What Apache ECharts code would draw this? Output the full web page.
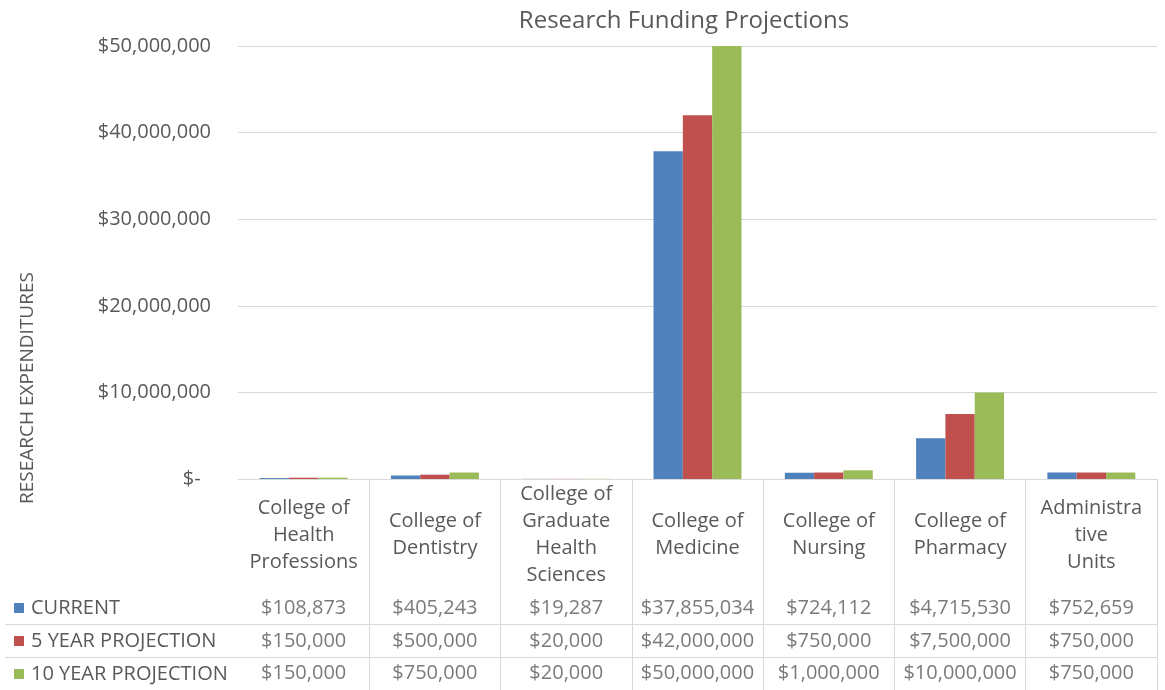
<!DOCTYPE html>
<html>
<head>
<meta charset="utf-8">
<script src="https://cdn.jsdelivr.net/npm/echarts@6/dist/echarts.min.js"></script>
<style>
  html, body { margin: 0; padding: 0; background: #fff; }
  #main { width: 1165px; height: 690px; }
</style>
</head>
<body>
<div id="main"></div>
<script>
// chart data
const categories = [
  'College of\nHealth\nProfessions',
  'College of\nDentistry',
  'College of\nGraduate\nHealth\nSciences',
  'College of\nMedicine',
  'College of\nNursing',
  'College of\nPharmacy',
  'Administra\ntive\nUnits'
];
const seriesNames = ['CURRENT', '5 YEAR PROJECTION', '10 YEAR PROJECTION'];
const current = [108873, 405243, 19287, 37855034, 724112, 4715530, 752659];
const fiveYear = [150000, 500000, 20000, 42000000, 750000, 7500000, 750000];
const tenYear = [150000, 750000, 20000, 50000000, 1000000, 10000000, 750000];
const colors = ['#4f81bd', '#c0504d', '#9bbb59'];

const FONT = '"Open Sans", "Noto Sans", sans-serif';
const TXT = '#595959';
const LINE = '#d9d9d9';

function money(v) {
  if (v === 0) return '$-  ';
  return '$' + v.toLocaleString('en-US');
}

const chart = echarts.init(document.getElementById('main'), null, { renderer: 'canvas' });

const allValues = [current, fiveYear, tenYear];

// bars in the main grid
const barSeries = allValues.map(function (vals, i) {
  return {
    name: seriesNames[i],
    type: 'bar',
    xAxisIndex: 0,
    yAxisIndex: 0,
    barGap: '0%',
    barCategoryGap: '33%',
    itemStyle: { color: colors[i] },
    data: vals
  };
});

// data table cells (text only) in the second grid
const tableSeries = allValues.map(function (vals, i) {
  return {
    name: 'table' + i,
    type: 'scatter',
    xAxisIndex: 1,
    yAxisIndex: 1,
    symbolSize: 0,
    silent: true,
    label: {
      show: true,
      position: 'inside',
      fontFamily: FONT,
      fontSize: 20,
      color: TXT,
      formatter: function (p) { return money(p.value[2]); }
    },
    data: vals.map(function (v, j) { return [j, i, v]; })
  };
});

const option = {
  backgroundColor: '#fff',
  animation: false,
  textStyle: { fontFamily: FONT },
  title: {
    text: 'Research Funding Projections',
    left: 679,
    top: 4,
    textAlign: 'center',
    textStyle: { fontFamily: FONT, fontSize: 24, fontWeight: 'normal', color: TXT }
  },
  legend: {
    data: seriesNames,
    orient: 'vertical',
    left: 14,
    top: 597,
    height: 100,
    padding: 0,
    icon: 'rect',
    itemWidth: 10,
    itemHeight: 10,
    itemGap: 11,
    selectedMode: false,
    textStyle: { fontFamily: FONT, fontSize: 20, color: TXT, lineHeight: 22, padding: [0, 0, 0, 2] }
  },
  graphic: [{
    type: 'text',
    x: 28,
    y: 388,
    rotation: Math.PI / 2,
    style: {
      text: 'RESEARCH EXPENDITURES',
      fontFamily: FONT,
      fontSize: 19,
      fill: TXT,
      align: 'center',
      verticalAlign: 'middle'
    }
  }],
  grid: [
    { left: 238, right: 8, top: 46, height: 433 },
    { left: 238, right: 8, top: 592, height: 99 }
  ],
  xAxis: [{
    type: 'category',
    gridIndex: 0,
    data: categories,
    axisLine: { lineStyle: { color: LINE } },
    axisTick: {
      show: true,
      length: 212,
      lineStyle: { color: LINE },
      interval: function (i) { return i > 0 && i < categories.length; }
    },
    axisLabel: {
      interval: 0,
      margin: 56,
      verticalAlign: 'middle',
      lineHeight: 27,
      fontFamily: FONT,
      fontSize: 20,
      color: TXT
    }
  }, {
    type: 'category',
    gridIndex: 1,
    data: categories,
    show: false
  }],
  yAxis: [{
    type: 'value',
    gridIndex: 0,
    min: 0,
    max: 50000000,
    interval: 10000000,
    axisLine: { show: false },
    axisTick: { show: false },
    splitLine: { lineStyle: { color: LINE } },
    axisLabel: {
      margin: 27,
      fontFamily: FONT,
      fontSize: 20,
      color: TXT,
      formatter: money
    }
  }, {
    type: 'category',
    gridIndex: 1,
    inverse: true,
    data: seriesNames,
    axisLine: { show: false },
    axisLabel: { show: false },
    axisTick: {
      show: true,
      length: 233,
      lineStyle: { color: LINE },
      interval: function (i) { return i === 1 || i === 2; }
    },
    splitLine: {
      show: true,
      lineStyle: { color: LINE },
      interval: function (i) { return i === 1 || i === 2; }
    }
  }],
  series: barSeries.concat(tableSeries)
};

chart.setOption(option);
</script>
</body>
</html>
